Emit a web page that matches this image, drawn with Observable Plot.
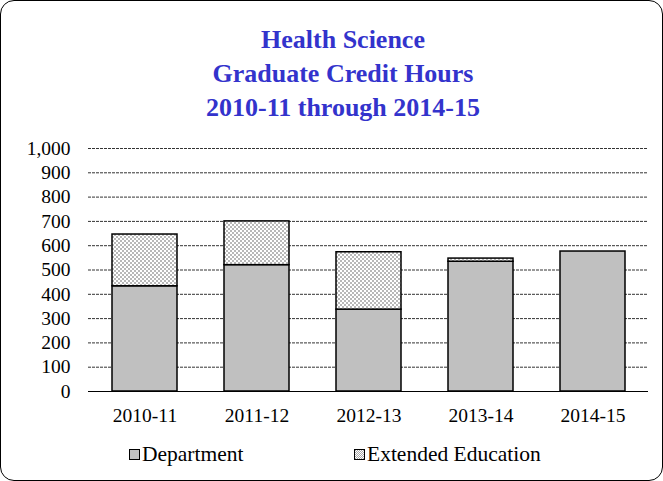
<!DOCTYPE html>
<html>
<head>
<meta charset="utf-8">
<script src="https://cdn.jsdelivr.net/npm/d3@7"></script>
<script src="https://cdn.jsdelivr.net/npm/@observablehq/plot@0.6"></script>
<style>
  html, body { margin: 0; padding: 0; background: #fff; }
  #wrap { position: relative; width: 663px; height: 481px; font-family: "Liberation Serif", "Times New Roman", serif; }
  #frame { position: absolute; left: 0; top: 0; width: 661px; height: 479px; border: 1px solid #000; border-radius: 14px; pointer-events: none; }
  #title { position: absolute; left: 0; top: 23px; width: 686px; text-align: center; color: #3333CC; font-weight: bold; font-size: 26px; line-height: 34px; }
  #chart { position: absolute; left: 0; top: 0; }
  .leg { position: absolute; top: 442px; font-size: 21.5px; color: #000; display: flex; align-items: center; }
  .sw { width: 9px; height: 9px; border: 1.5px solid #000; margin-right: 2px; }
</style>
</head>
<body>
<div id="wrap">
  <div id="chart"></div>
  <div id="title">Health Science<br>Graduate Credit Hours<br>2010-11 through 2014-15</div>
  <div class="leg" style="left:129px"><div class="sw" style="background:#c0c0c0"></div>Department</div>
  <div class="leg" style="left:354px"><div class="sw" style="background:url('data:image/svg+xml;utf8,<svg xmlns=%22http://www.w3.org/2000/svg%22 width=%222%22 height=%222%22><rect width=%221%22 height=%221%22 fill=%22%23a8a8a8%22/><rect x=%221%22 y=%221%22 width=%221%22 height=%221%22 fill=%22%23a8a8a8%22/></svg>') #fff"></div>Extended Education</div>
  <div id="frame"></div>
</div>
<script>
const years = ["2010-11", "2011-12", "2012-13", "2013-14", "2014-15"];
const department = [433, 520, 337, 534, 576];
const extended = [213, 180, 236, 13, 0];
const yTicks = [0, 100, 200, 300, 400, 500, 600, 700, 800, 900, 1000];

const data = years.map((year, i) => ({year, dept: department[i], ext: extended[i]}));

const chart = Plot.plot({
  width: 663,
  height: 481,
  marginLeft: 88,
  marginRight: 15,
  marginTop: 148,
  marginBottom: 90,
  style: {fontFamily: "'Liberation Serif', 'Times New Roman', serif", fontSize: "19.5px", color: "#000", background: "transparent"},
  x: {domain: years, paddingInner: 0.42, paddingOuter: 0.21, label: null, tickSize: 0, tickPadding: 17},
  y: {domain: [0, 1000], ticks: yTicks, tickFormat: d3.format(","), label: null, tickSize: 0, tickPadding: 18},
  marks: [
    Plot.ruleY(yTicks.filter(d => d > 0), {stroke: "#333", strokeWidth: 1, strokeDasharray: "3,1"}),
    Plot.barY(data, {x: "year", y1: 0, y2: "dept", fill: "#c0c0c0", stroke: "#000", strokeWidth: 1.5}),
    Plot.barY(data.filter(d => d.ext > 0), {x: "year", y1: "dept", y2: d => d.dept + d.ext, fill: "url(#checker)", stroke: "#000", strokeWidth: 1.5}),
    Plot.ruleY([0], {stroke: "#000", strokeWidth: 1})
  ]
});

const svg = d3.select(chart);
const defs = svg.insert("defs", ":first-child");
const pat = defs.append("pattern").attr("id", "checker").attr("patternUnits", "userSpaceOnUse").attr("width", 4).attr("height", 4);
pat.append("rect").attr("width", 4).attr("height", 4).attr("fill", "#fff");
pat.append("rect").attr("width", 2).attr("height", 2).attr("fill", "#b8b8b8");
pat.append("rect").attr("x", 2).attr("y", 2).attr("width", 2).attr("height", 2).attr("fill", "#b8b8b8");

document.getElementById("chart").appendChild(chart);
</script>
</body>
</html>
